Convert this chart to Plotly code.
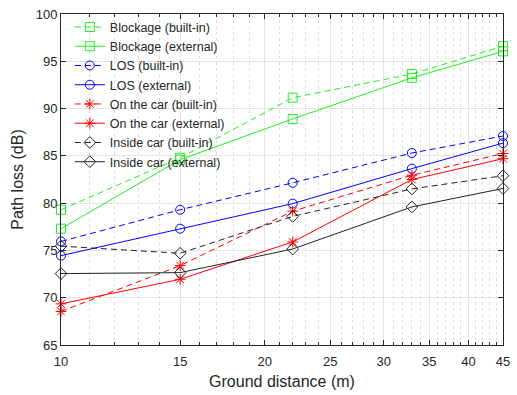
import plotly.graph_objects as go

distance = [10, 15, 22, 33, 45]

blockage_builtin = [79.3, 84.8, 91.15, 93.65, 96.6]
blockage_external = [77.3, 84.6, 88.9, 93.25, 96.05]
los_builtin = [75.95, 79.3, 82.15, 85.3, 87.1]
los_external = [74.45, 77.3, 79.95, 83.65, 86.35]
car_builtin = [68.55, 73.4, 79.15, 82.95, 85.25]
car_external = [69.35, 71.95, 75.9, 82.5, 84.7]
inside_builtin = [75.45, 74.7, 78.6, 81.5, 82.9]
inside_external = [72.55, 72.65, 75.15, 79.6, 81.55]

x_ticks = [10, 15, 20, 25, 30, 35, 40, 45]
y_ticks = [65, 70, 75, 80, 85, 90, 95, 100]

series = [
    ("Blockage (built-in)", blockage_builtin, "#22ee22", "dash", "square-open"),
    ("Blockage (external)", blockage_external, "#22ee22", "solid", "square-open"),
    ("LOS (built-in)", los_builtin, "#0000ff", "dash", "circle-open"),
    ("LOS (external)", los_external, "#0000ff", "solid", "circle-open"),
    ("On the car (built-in)", car_builtin, "#ff0000", "dash", "asterisk-open"),
    ("On the car (external)", car_external, "#ff0000", "solid", "asterisk-open"),
    ("Inside car (built-in)", inside_builtin, "#222222", "dash", "diamond-open"),
    ("Inside car (external)", inside_external, "#222222", "solid", "diamond-open"),
]

fig = go.Figure()
for name, vals, color, dash, sym in series:
    fig.add_trace(go.Scatter(
        x=distance, y=vals, name=name, mode="lines+markers",
        line=dict(color=color, width=1, dash="6px,4px" if dash == "dash" else "solid"),
        marker=dict(symbol=sym, size=9, color=color, line=dict(width=1, color=color)),
        cliponaxis=False,
    ))

minor_x = [v for v in range(11, 45) if v not in x_ticks]
axis_color = "#262626"
fig.update_layout(
    width=517, height=395,
    margin=dict(l=61, r=7, t=10, b=50),
    paper_bgcolor="white", plot_bgcolor="white",
    font=dict(family="Liberation Sans, Arial, sans-serif", size=13, color="#262626"),
    showlegend=True,
    legend=dict(x=0.02, y=1.005, xanchor="left", yanchor="top",
                bgcolor="rgba(255,255,255,0)", borderwidth=0,
                font=dict(size=12.5, color="#262626"), tracegroupgap=0),
    xaxis=dict(
        type="log", range=[0.99999, 1.653222],
        tickmode="array", tickvals=x_ticks, ticktext=[str(v) for v in x_ticks],
        ticklabeloverflow="allow",
        showline=True, linecolor=axis_color, linewidth=1, mirror="ticks",
        ticks="inside", ticklen=5, tickcolor=axis_color,
        ticklabelstandoff=4,
        showgrid=True, gridcolor="#e4e4e4", gridwidth=1,
        zeroline=False,
        title=dict(text="Ground distance (m)", font=dict(size=16), standoff=8),
        minor=dict(tickmode="array", tickvals=minor_x, ticks="inside", ticklen=3,
                   tickcolor=axis_color, showgrid=True, gridcolor="#e0e0e0",
                   griddash="dot", gridwidth=1),
    ),
    yaxis=dict(
        range=[65, 100],
        tickmode="array", tickvals=y_ticks,
        showline=True, linecolor=axis_color, linewidth=1, mirror="ticks",
        ticks="inside", ticklen=5, tickcolor=axis_color,
        showgrid=True, gridcolor="#e4e4e4", gridwidth=1,
        zeroline=False,
        title=dict(text="Path loss (dB)", font=dict(size=16), standoff=8),
    ),
)

fig.write_html("out.html")
